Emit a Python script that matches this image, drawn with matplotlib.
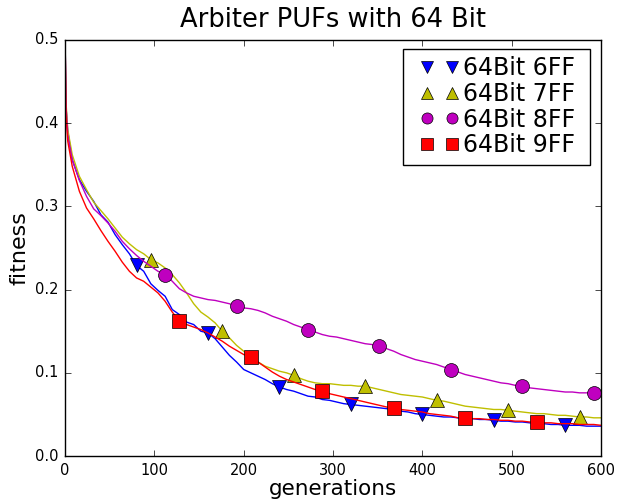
import matplotlib
matplotlib.use('Agg')
import matplotlib.pyplot as plt
from matplotlib.lines import Line2D
from matplotlib.legend_handler import HandlerLine2D

gens = [0, 1, 3] + list(range(8, 601, 8))

fit_6ff = [0.5, 0.42, 0.39,
           0.356, 0.332, 0.318, 0.306, 0.290, 0.281, 0.266, 0.254, 0.243, 0.229,
           0.222, 0.207, 0.199, 0.192, 0.176, 0.170, 0.161, 0.158, 0.150, 0.148,
           0.141, 0.131, 0.121, 0.113, 0.104, 0.100, 0.096, 0.092, 0.087, 0.083,
           0.080, 0.078, 0.075, 0.072, 0.071, 0.068, 0.067, 0.065, 0.063, 0.062,
           0.061, 0.060, 0.059, 0.058, 0.057, 0.056, 0.054, 0.053, 0.051, 0.050,
           0.049, 0.048, 0.047, 0.047, 0.046, 0.045, 0.045, 0.044, 0.044, 0.043,
           0.042, 0.042, 0.041, 0.041, 0.040, 0.039, 0.039, 0.038, 0.038, 0.037,
           0.037, 0.037, 0.036, 0.036, 0.036]

fit_7ff = [0.5, 0.425, 0.392,
           0.362, 0.336, 0.320, 0.305, 0.295, 0.285, 0.274, 0.263, 0.255, 0.248,
           0.243, 0.236, 0.232, 0.226, 0.218, 0.208, 0.196, 0.183, 0.173, 0.167,
           0.160, 0.150, 0.142, 0.133, 0.126, 0.120, 0.113, 0.108, 0.105, 0.102,
           0.100, 0.097, 0.093, 0.090, 0.088, 0.087, 0.087, 0.086, 0.085, 0.085,
           0.084, 0.084, 0.082, 0.080, 0.078, 0.076, 0.074, 0.073, 0.072, 0.071,
           0.069, 0.067, 0.066, 0.064, 0.062, 0.060, 0.059, 0.058, 0.057, 0.056,
           0.056, 0.055, 0.054, 0.053, 0.052, 0.051, 0.051, 0.050, 0.049, 0.049,
           0.048, 0.047, 0.047, 0.046, 0.046]

fit_8ff = [0.5, 0.42, 0.385,
           0.356, 0.331, 0.312, 0.297, 0.289, 0.280, 0.270, 0.258, 0.249, 0.241,
           0.234, 0.228, 0.222, 0.218, 0.210, 0.201, 0.196, 0.192, 0.190, 0.188,
           0.187, 0.185, 0.183, 0.180, 0.178, 0.177, 0.175, 0.172, 0.168, 0.165,
           0.162, 0.158, 0.155, 0.151, 0.149, 0.146, 0.144, 0.143, 0.141, 0.139,
           0.137, 0.135, 0.134, 0.132, 0.129, 0.126, 0.122, 0.119, 0.116, 0.114,
           0.112, 0.110, 0.107, 0.104, 0.101, 0.098, 0.096, 0.094, 0.092, 0.090,
           0.088, 0.087, 0.085, 0.084, 0.082, 0.081, 0.080, 0.079, 0.078, 0.077,
           0.077, 0.076, 0.076, 0.076, 0.074]

fit_9ff = [0.5, 0.41, 0.378,
           0.348, 0.318, 0.298, 0.285, 0.271, 0.258, 0.246, 0.233, 0.222, 0.214,
           0.210, 0.203, 0.196, 0.186, 0.173, 0.162, 0.158, 0.155, 0.152, 0.148,
           0.143, 0.138, 0.132, 0.127, 0.122, 0.119, 0.113, 0.107, 0.101, 0.096,
           0.092, 0.089, 0.086, 0.083, 0.080, 0.078, 0.075, 0.073, 0.071, 0.069,
           0.067, 0.065, 0.063, 0.061, 0.059, 0.058, 0.056, 0.055, 0.054, 0.053,
           0.051, 0.050, 0.049, 0.048, 0.046, 0.046, 0.045, 0.045, 0.044, 0.044,
           0.043, 0.043, 0.042, 0.042, 0.041, 0.041, 0.040, 0.040, 0.039, 0.039,
           0.039, 0.038, 0.038, 0.038, 0.037]

labels = ['64Bit 6FF', '64Bit 7FF', '64Bit 8FF', '64Bit 9FF']
series = [fit_6ff, fit_7ff, fit_8ff, fit_9ff]
colors = ['b', 'y', 'm', 'r']
markers = ['v', '^', 'o', 's']
starts = [80, 96, 112, 128]  # first generation carrying a marker

plt.style.use('classic')
fig = plt.figure(figsize=(6.26, 5.04), dpi=100)
ax = fig.add_axes([0.104, 0.095, 0.856, 0.826])

handles = []
for vals, c, m, s, lab in zip(series, colors, markers, starts, labels):
    idx = [i for i, g in enumerate(gens) if g >= s and (g - s) % 80 == 0]
    ax.plot(gens, vals, color=c, lw=1.0, marker=m, markevery=idx,
            ms=10, mec='k', mew=0.5)
    handles.append(Line2D([], [], color=c, ls='none', marker=m, ms=8,
                          mec='k', mew=0.5, label=lab))

ax.set_xlim(0, 600)
ax.set_ylim(0, 0.5)
ax.set_xticks([0, 100, 200, 300, 400, 500, 600])
ax.set_yticks([0.0, 0.1, 0.2, 0.3, 0.4, 0.5])
ax.tick_params(labelsize=10.5, pad=5)
ax.set_title('Arbiter PUFs with 64 Bit', fontsize=18.5, pad=9)
ax.set_xlabel('generations', fontsize=15.5, labelpad=1)
ax.set_ylabel('fitness', fontsize=16, labelpad=4)
ax.legend(handles=handles, loc='upper right', numpoints=2, fontsize=17,
          bbox_to_anchor=(0.631, 0.5, 0.3485, 0.4777), mode='expand',
          handler_map={Line2D: HandlerLine2D(marker_pad=0.72)},
          handlelength=2.5, handletextpad=-0.25, borderpad=0.3,
          labelspacing=0.075, borderaxespad=0)

plt.savefig('out.png', dpi=100)
